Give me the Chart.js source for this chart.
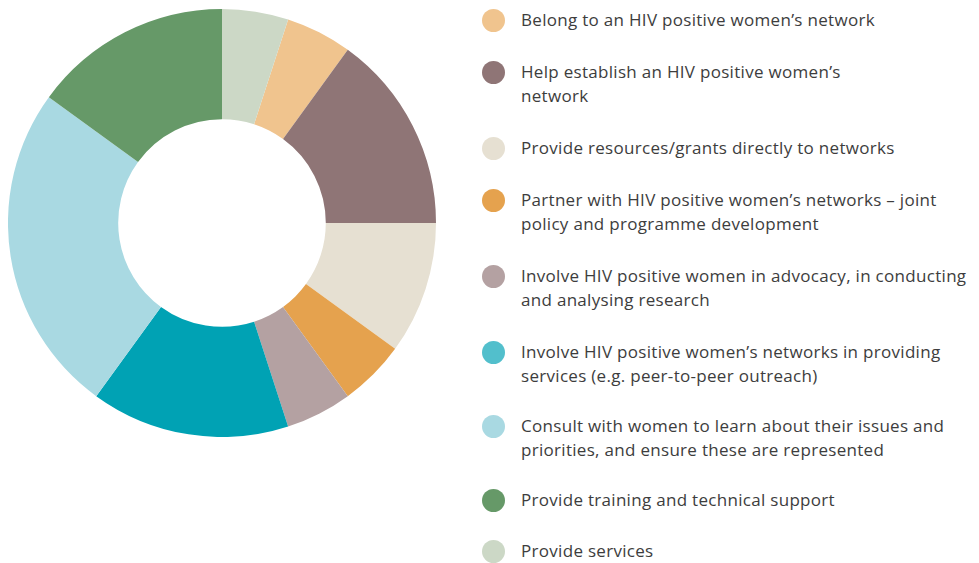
<!DOCTYPE html>
<html>
<head>
<meta charset="utf-8">
<script src="https://cdn.jsdelivr.net/npm/chart.js@4/dist/chart.umd.min.js"></script>
<style>
  html, body { margin: 0; padding: 0; background: #ffffff; width: 979px; height: 563px; overflow: hidden; }
  #chartBox { position: absolute; left: 8px; top: 9px; width: 428px; height: 428px; }
  #legend { position: absolute; left: 482px; top: 0; font-family: "Open Sans", sans-serif; font-size: 17px; letter-spacing: 0.3px; color: #3d3d3d; }
  .item { position: absolute; left: 0; white-space: nowrap; }
  .dot { position: absolute; left: 0; width: 23px; height: 23px; border-radius: 50%; }
  .txt { position: absolute; left: 39px; line-height: 24px; }
</style>
</head>
<body>
<div id="chartBox"><canvas id="c"></canvas></div>
<div id="legend"></div>
<script>
const categories = [
  ["Belong to an HIV positive women\u2019s network"],
  ["Help establish an HIV positive women\u2019s", "network"],
  ["Provide resources/grants directly to networks"],
  ["Partner with HIV positive women\u2019s networks \u2013 joint", "policy and programme development"],
  ["Involve HIV positive women in advocacy, in conducting", "and analysing research"],
  ["Involve HIV positive women\u2019s networks in providing", "services (e.g. peer-to-peer outreach)"],
  ["Consult with women to learn about their issues and", "priorities, and ensure these are represented"],
  ["Provide training and technical support"],
  ["Provide services"]
];
const values = [5, 15, 10, 5, 5, 15, 25, 15, 5];
const sliceColors = ["#f0c48e", "#8f7576", "#e6e0d2", "#e5a24e", "#b4a1a2", "#00a2b4", "#a9d9e2", "#669968", "#ccd8c6"];
const legendColors = ["#f0c48e", "#8f7576", "#e6e0d2", "#e5a24e", "#b4a1a2", "#52bfcc", "#a9d9e2", "#669968", "#ccd8c6"];

new Chart(document.getElementById('c'), {
  type: 'doughnut',
  data: {
    labels: categories,
    datasets: [{ data: values, backgroundColor: sliceColors, borderWidth: 0, hoverOffset: 0 }]
  },
  options: {
    responsive: true,
    maintainAspectRatio: false,
    animation: false,
    cutout: '48.5%',
    rotation: 18,
    layout: { padding: 0 },
    plugins: { legend: { display: false }, tooltip: { enabled: false } }
  }
});

// HTML legend built from the same arrays
const legend = document.getElementById('legend');
const centers = [20, 72, 148, 200, 276, 352, 426, 500, 551];
categories.forEach((lines, i) => {
  const it = document.createElement('div');
  it.className = 'item';
  it.style.top = (centers[i] - 12) + 'px';
  const d = document.createElement('div');
  d.className = 'dot';
  d.style.background = legendColors[i];
  d.style.top = '0.5px';
  const t = document.createElement('div');
  t.className = 'txt';
  t.style.top = '0px';
  t.innerHTML = lines.join('<br>');
  it.appendChild(d); it.appendChild(t);
  legend.appendChild(it);
});
</script>
</body>
</html>
